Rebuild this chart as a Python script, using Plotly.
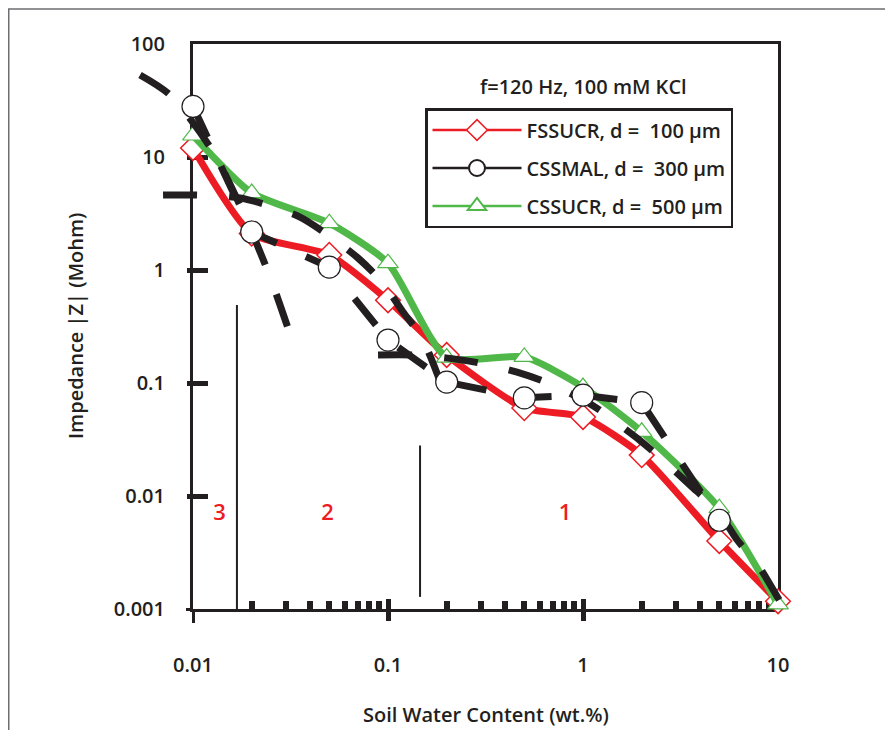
import plotly.graph_objects as go

# ---------------- data ----------------
water_content = [0.01, 0.02, 0.05, 0.1, 0.2, 0.5, 1, 2, 5, 10]
fssucr_100um = [12.0, 2.1, 1.36, 0.54, 0.177, 0.060, 0.050, 0.023, 0.0040, 0.00117]
cssucr_500um = [15.5, 4.8, 2.6, 1.15, 0.168, 0.17, 0.092, 0.037, 0.0078, 0.0011]
cssmal_x = [0.01, 0.02, 0.05, 0.1, 0.2, 0.5, 1, 2, 5]
cssmal_300um = [28.0, 2.17, 1.06, 0.24, 0.102, 0.074, 0.078, 0.067, 0.0061]

# dashed model curves (regions 3, 2, 1)
model3_x = [0.00535, 0.00762, 0.01252, 0.01805, 0.02483, 0.03257]
model3_y = [53.2, 35.4, 11.5, 3.26, 0.867, 0.226]
model2_x = [0.00702, 0.01048, 0.01742, 0.02396, 0.03539, 0.04924, 0.07017, 0.09316, 0.1194, 0.1494, 0.2031]
model2_y = [4.6, 4.6, 4.34, 3.76, 2.94, 2.04, 1.277, 0.783, 0.425, 0.250, 0.0665]
model1_x = [0.0889, 0.133, 0.203, 0.296, 0.459, 0.662, 1.11, 1.38, 1.96, 2.48, 3.62, 4.87, 6.16, 7.90, 10.0, 12.2]
model1_y = [0.177, 0.177, 0.166, 0.150, 0.125, 0.100, 0.064, 0.049, 0.031, 0.022, 0.012, 0.0075,
            0.0041, 0.00245, 0.00125, 0.00069]

# region boundaries and labels
boundary_a_x = [0.0168, 0.0168]
boundary_a_y = [0.49, 0.001]
boundary_b_x = [0.146, 0.146]
boundary_b_y = [0.028, 0.00128]
region_labels = ["3", "2", "1"]
region_x = [0.0137, 0.049, 0.81]
region_y = [0.0068, 0.0068, 0.0068]

x_tickvals = [0.01, 0.1, 1, 10]
x_ticktext = ["0.01", "0.1", "1", "10"]
y_tickvals = [0.001, 0.01, 0.1, 1, 10, 100]
y_ticktext = ["0.001", "0.01", "0.1", "1", "10", "100"]
x_minor = [m * d for d in (0.01, 0.1, 1) for m in range(2, 10)]

series_names = ["FSSUCR, d =\u00a0 100 \u03bcm", "CSSMAL, d =\u00a0 300 \u03bcm", "CSSUCR, d =\u00a0 500 \u03bcm"]
condition_text = "f=120 Hz, 100 mM KCl"
x_title = "Soil Water Content (wt.%)"
y_title = "Impedance |Z| (Mohm)"

# ---------------- styling / geometry ----------------
INK = "#231f20"
RED = "#ed1c24"
GREEN = "#4fb848"
FONT = "Open Sans"
W_FIG, H_FIG = 893, 730
OFF = 8  # page offset of the figure (body margin)
L, R, T, B = 120, 60, 20, 80
PW, PH = W_FIG - L - R, H_FIG - T - B
AX_L, AX_R, AX_T, AX_B = 193 - OFF, 778 - OFF, 44 - OFF, 609 - OFF
DEC_X = (AX_R - AX_L) / 3.0
DEC_Y = (AX_B - AX_T) / 5.0

x2_range = [-2 + (L - AX_L) / DEC_X, -2 + (W_FIG - R - AX_L) / DEC_X]
y2_range = [2 - (H_FIG - B - AX_T) / DEC_Y, 2 + (AX_T - T) / DEC_Y]
x_dom = [(AX_L - L) / PW, (AX_R - L) / PW]
y_dom = [(H_FIG - B - AX_B) / PH, (H_FIG - B - AX_T) / PH]


def px_to_paper(px, py):
    """page pixel -> paper fraction"""
    return (px - OFF - L) / PW, (H_FIG - B - (py - OFF)) / PH


tick_font = dict(family=FONT, size=20, color=INK, weight=600)
text_font = dict(family=FONT, size=20, color=INK, weight=600)
DASH = "34px,32px"

fig = go.Figure()

# placeholder traces so that the frame / tick axes get drawn
for xa, ya in (("x", "y"), ("x3", "y"), ("x4", "y"), ("x5", "y"), ("x", "y3"), ("x", "y4"), ("x", "y5")):
    fig.add_trace(go.Scatter(x=[None], y=[None], xaxis=xa, yaxis=ya, mode="lines",
                             showlegend=False, hoverinfo="skip"))

# red series
fig.add_trace(go.Scatter(
    x=water_content, y=fssucr_100um, xaxis="x2", yaxis="y2", mode="lines+markers",
    line=dict(color=RED, width=7, shape="spline", smoothing=0.6),
    marker=dict(symbol="diamond", size=19, color="white", line=dict(color=RED, width=1.5)),
    showlegend=False, cliponaxis=False))
# green series
fig.add_trace(go.Scatter(
    x=water_content, y=cssucr_500um, xaxis="x2", yaxis="y2", mode="lines+markers",
    line=dict(color=GREEN, width=7, shape="spline", smoothing=0.6),
    marker=dict(symbol="triangle-up", size=18, color="white", line=dict(color=GREEN, width=1.2)),
    showlegend=False, cliponaxis=False))
# model curves
for mx, my in ((model3_x, model3_y), (model2_x, model2_y), (model1_x, model1_y)):
    fig.add_trace(go.Scatter(
        x=mx, y=my, xaxis="x2", yaxis="y2", mode="lines",
        line=dict(color=INK, width=7, dash=DASH, shape="spline", smoothing=0.8),
        showlegend=False))
# black series (dashed connection + circles)
fig.add_trace(go.Scatter(
    x=cssmal_x, y=cssmal_300um, xaxis="x2", yaxis="y2", mode="lines+markers",
    line=dict(color=INK, width=7, dash=DASH),
    marker=dict(symbol="circle", size=22, color="white", line=dict(color=INK, width=1.2)),
    showlegend=False, cliponaxis=False))
# region boundaries
for bx_, by_ in ((boundary_a_x, boundary_a_y), (boundary_b_x, boundary_b_y)):
    fig.add_trace(go.Scatter(x=bx_, y=by_, xaxis="x2", yaxis="y2", mode="lines",
                             line=dict(color=INK, width=2), showlegend=False))
fig.add_trace(go.Scatter(x=region_x, y=region_y, xaxis="x2", yaxis="y2", mode="text",
                         text=region_labels,
                         textfont=dict(family=FONT, size=22, color=RED, weight=600),
                         showlegend=False))

# legend entries
legend_styles = [
    (RED, "diamond", 2.5, 1.5),
    (INK, "circle", 2.5, 2.0),
    (GREEN, "triangle-up", 2.5, 2.0),
]
for i, (name, (col, sym, lw, mlw)) in enumerate(zip(series_names, legend_styles)):
    fig.add_trace(go.Scatter(
        x=[None], y=[None], xaxis="x2", yaxis="y2", mode="lines+markers", name=name,
        legendgroup=f"g{i}",
        line=dict(color=col, width=lw),
        marker=dict(symbol=sym, size=16, color="white", line=dict(color=col, width=mlw))))

common = dict(type="log", showgrid=False, zeroline=False)
leg_x, leg_y = px_to_paper(425, 108)
fig.update_layout(
    width=W_FIG, height=H_FIG,
    margin=dict(l=L, r=R, t=T, b=B, autoexpand=False),
    paper_bgcolor="white", plot_bgcolor="rgba(0,0,0,0)",
    font=dict(family=FONT, color=INK),
    xaxis=dict(**common, range=[-2, 1], domain=x_dom, anchor="y",
               showline=True, linewidth=3, linecolor=INK, mirror=True,
               tickmode="array", tickvals=x_tickvals, ticktext=x_ticktext, ticks="",
               ticklabelstandoff=36, tickfont=tick_font, automargin=False,
               minor=dict(tickmode="array", tickvals=x_minor, ticks="inside", ticklen=8,
                          tickwidth=5.5, tickcolor=INK, showgrid=False)),
    yaxis=dict(**common, range=[-3, 2], domain=y_dom, anchor="x",
               showline=True, linewidth=3, linecolor=INK, mirror=True,
               tickmode="array", tickvals=y_tickvals, ticktext=y_ticktext, ticks="",
               ticklabelstandoff=21, tickfont=tick_font, automargin=False),
    xaxis3=dict(**common, range=[-2, 1], overlaying="x", anchor="y", side="bottom",
                tickmode="array", tickvals=[0.1, 1], ticks="inside", ticklen=10, tickwidth=5,
                tickcolor=INK, showticklabels=False, showline=False),
    xaxis4=dict(**common, range=[-2, 1], overlaying="x", anchor="y", side="bottom",
                tickmode="array", tickvals=[0.1, 1], ticks="outside", ticklen=11, tickwidth=5,
                tickcolor=INK, showticklabels=False, showline=False),
    xaxis5=dict(**common, range=[-2, 1], overlaying="x", anchor="y", side="bottom",
                tickmode="array", tickvals=[0.01], ticks="outside", ticklen=13, tickwidth=3,
                tickcolor=INK, showticklabels=False, showline=False),
    yaxis3=dict(**common, range=[-3, 2], overlaying="y", anchor="x", side="left",
                tickmode="array", tickvals=[0.01, 0.1, 1, 10], ticks="inside", ticklen=15,
                tickwidth=5, tickcolor=INK, showticklabels=False, showline=False),
    yaxis4=dict(**common, range=[-3, 2], overlaying="y", anchor="x", side="left",
                tickmode="array", tickvals=[0.01, 0.1, 1, 10], ticks="outside", ticklen=5,
                tickwidth=5, tickcolor=INK, showticklabels=False, showline=False),
    yaxis5=dict(**common, range=[-3, 2], overlaying="y", anchor="x", side="left",
                tickmode="array", tickvals=[0.001], ticks="outside", ticklen=6,
                tickwidth=3, tickcolor=INK, showticklabels=False, showline=False),
    xaxis2=dict(**common, range=x2_range, domain=[0, 1], anchor="y2", visible=False),
    yaxis2=dict(**common, range=y2_range, domain=[0, 1], anchor="x2", visible=False),
    legend=dict(x=leg_x, y=leg_y, xanchor="left", yanchor="top", bgcolor="white",
                bordercolor=INK, borderwidth=2.5, font=text_font,
                itemwidth=89, tracegroupgap=9, traceorder="grouped"),
    showlegend=True,
)

for (px, py), txt, ang in (((583, 86), condition_text, 0),
                           ((485.5, 715), x_title, 0),
                           ((75, 326), y_title, -90)):
    ax, ay = px_to_paper(px, py)
    fig.add_annotation(x=ax, y=ay, xref="paper", yref="paper", text=txt, showarrow=False,
                       xanchor="center", yanchor="middle", textangle=ang, font=text_font)

# outer grey frame of the figure
fx0, fy0 = px_to_paper(OFF + 0.75, 745)
fx1, fy1 = px_to_paper(891, 9)
fig.add_shape(type="rect", xref="paper", yref="paper", x0=fx0, y0=fy0, x1=fx1, y1=fy1,
              line=dict(color="#6d6e71", width=1.5), layer="below")

fig.write_html("out.html")
